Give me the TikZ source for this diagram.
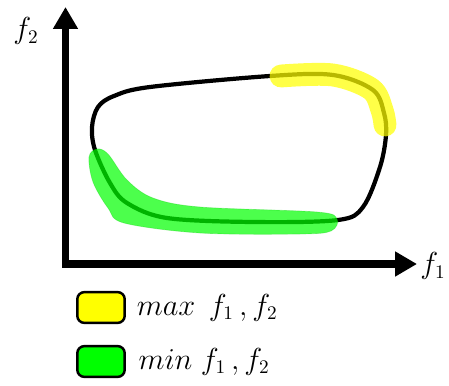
\documentclass[tikz,border=0pt]{standalone}
\usepackage{xcolor}
\usepackage{tikz}
\usetikzlibrary{arrows.meta,positioning}

\definecolor{hiyellow}{RGB}{255,255,0}
\definecolor{higreen}{RGB}{0,255,0}

\begin{document}
\begin{tikzpicture}[
    x=0.02cm, y=-0.02cm,
    axis/.style={line width=4pt, line join=miter, {Triangle[length=12.5pt,width=13.5pt]}-{Triangle[length=12.5pt,width=13.5pt]}},
    front/.style={line width=2.4pt, line join=round},
    maxband/.style={draw=hiyellow, line width=13pt, line cap=round, opacity=0.72},
    minband/.style={fill=higreen, draw=higreen!80!black, line width=0.4pt, fill opacity=0.7, draw opacity=0.3},
    key/.style={draw, line width=1.4pt, rounded corners=4pt, minimum width=27pt, minimum height=17.5pt, inner sep=0pt},
    label/.style={inner sep=0pt, font=\fontsize{16}{19}\selectfont}
  ]
    \useasboundingbox (0,0) rectangle (449,385);
    % axes
    \coordinate (origin) at (65.5,264);
    \coordinate (ytip) at (65.5,7);
    \coordinate (xtip) at (417,264);
    \draw[axis] (ytip) -- (origin) -- (xtip);
    \node[label] (f2) at (26,31) {$f_2$};
    \node[label] (f1) at (433,266) {$f_1$};
    % front
    \draw[front] plot[smooth cycle, tension=0.55] coordinates {
      (92,127) (98,107) (114,96) (150,87) (270,76) (333,75) (373,90)
      (384,113) (386,135) (380,167) (363,207) (338,220) (253,222)
      (167,218) (127,203) (110,183) (95,150)};
    \draw[maxband] plot[smooth, tension=0.55] coordinates {
      (281,76) (333,75) (371,89) (382,110) (385,125)};
    \draw[minband] plot[smooth cycle, tension=0.55] coordinates {
      (89,157) (97,149) (108,154) (127,180) (153,198) (200,207) (317,212)
      (337,219) (331,231) (300,234) (200,233) (124,223) (108,208) (93,182)};
    % legend
    \node[key, fill=hiyellow] (maxkey) at (101,307.5) {};
    \node[key, fill=higreen] (minkey) at (101,361.5) {};
    \node[label, right=6pt of maxkey] (maxtext) {$max\;\, f_1\,,f_2$};
    \node[label, right=7pt of minkey] (mintext) {$min\;f_1\,,f_2$};
\end{tikzpicture}
\end{document}
